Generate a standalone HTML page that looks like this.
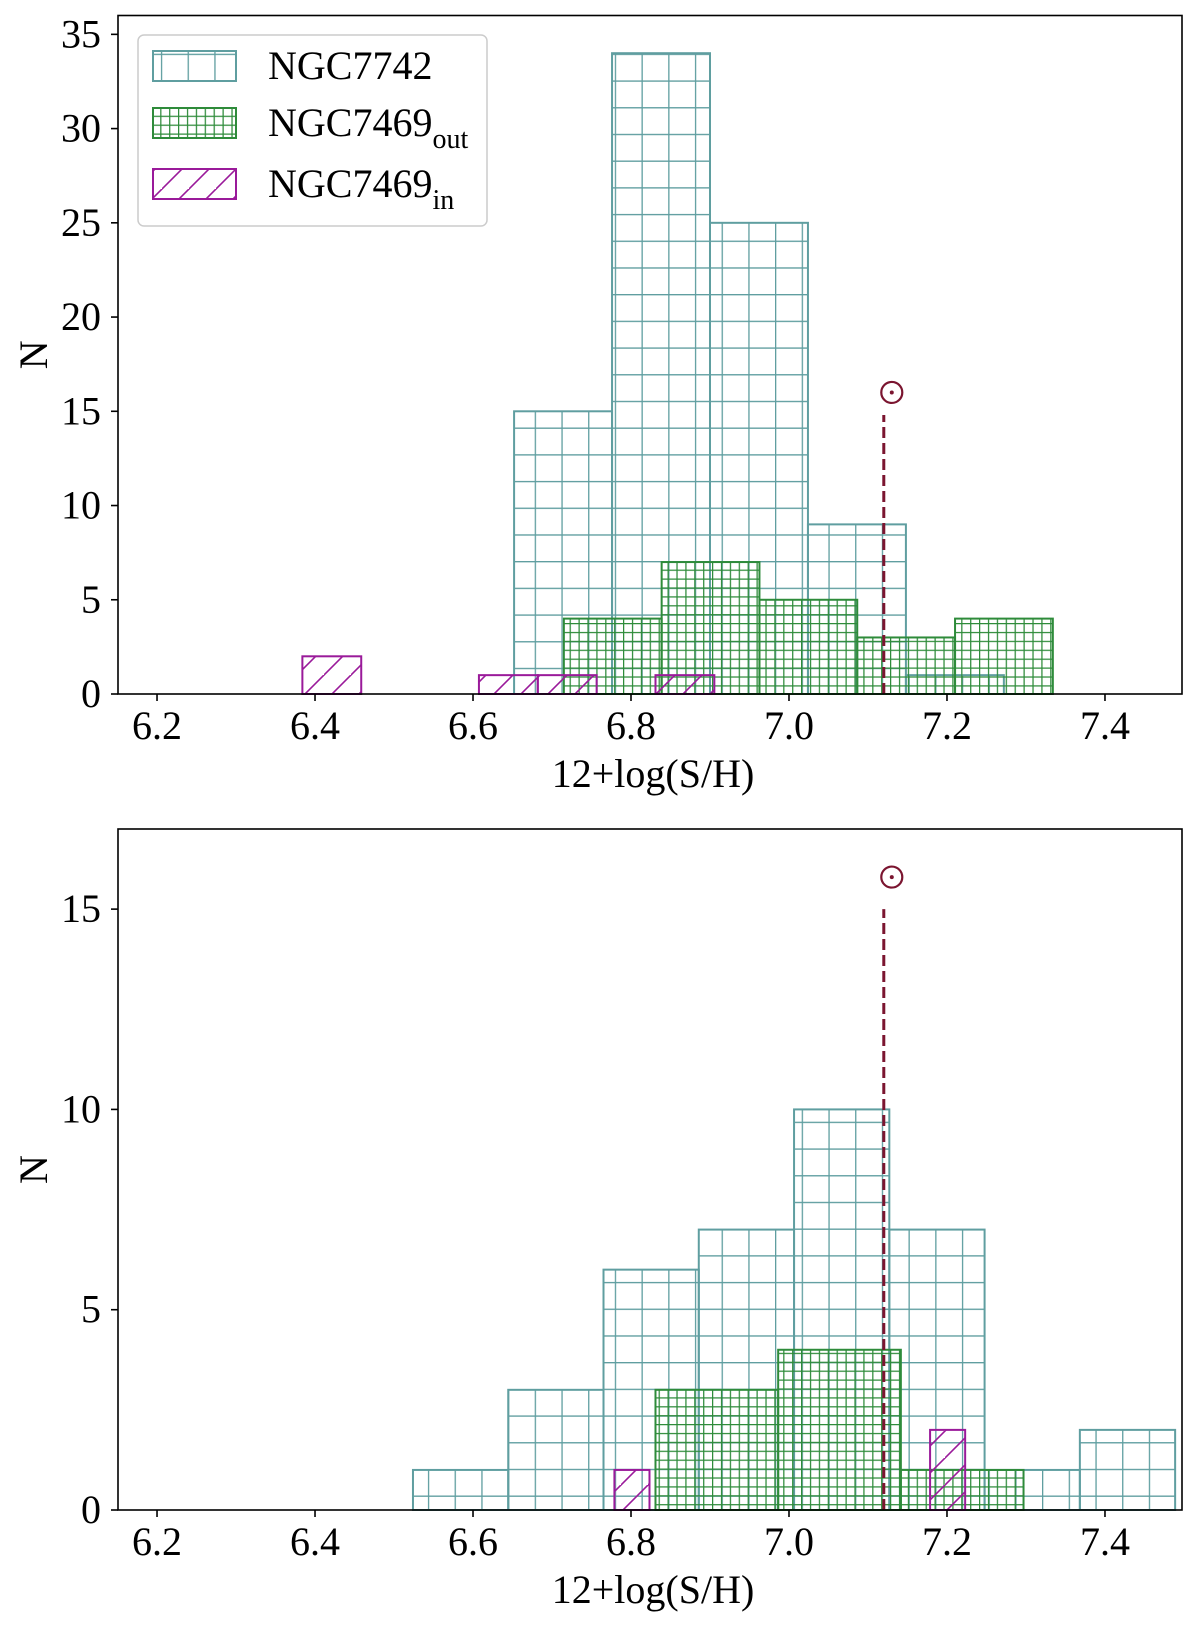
<!DOCTYPE html>
<html><head><meta charset="utf-8"><style>
html,body{margin:0;padding:0;background:#fff}
svg text{font-family:"Liberation Serif",serif;fill:#000}
</style></head><body>
<svg id="c" width="1200" height="1626" xmlns="http://www.w3.org/2000/svg">
<defs>
<pattern id="pT" patternUnits="userSpaceOnUse" width="26.7" height="26.7" x="0.7" y="0.3"><path d="M0 0.5H26.7M0.5 0V26.7" stroke="#5f9ea0" stroke-width="1.6" fill="none"/></pattern>
<pattern id="pG" patternUnits="userSpaceOnUse" width="8.9" height="8.9"><path d="M0 0.5H8.9M0.5 0V8.9" stroke="#2e8b3a" stroke-width="1.5" fill="none"/></pattern>
<pattern id="pP" patternUnits="userSpaceOnUse" width="27" height="27"><path d="M-2 29L29 -2M-29 29L2 -2M25 56L56 25" stroke="#9a1a9a" stroke-width="1.6" fill="none"/></pattern>
</defs>
<g id="g"></g>
</svg>
<script>
// Top panel data
const topTealEdges0 = 6.652, topTealW = 0.124;
const topTealCounts = [15, 34, 25, 9, 1];
const topGreenEdges0 = 6.715, topGreenW = 0.1238;
const topGreenCounts = [4, 7, 5, 3, 4];
const topPurpleEdges0 = 6.384, topPurpleW = 0.0745;
const topPurpleCounts = [2, 0, 0, 1, 1, 0, 1];
// Bottom panel data
const botTealEdges0 = 6.524, botTealW = 0.1206;
const botTealCounts = [1, 3, 6, 7, 10, 7, 1, 2];
const botGreenEdges0 = 6.831, botGreenW = 0.1553;
const botGreenCounts = [3, 4, 1];
const botPurpleEdges0 = 6.779, botPurpleW = 0.0444;
const botPurpleCounts = [1, 0, 0, 0, 0, 0, 0, 0, 0, 2];
const xTicks = [6.2, 6.4, 6.6, 6.8, 7.0, 7.2, 7.4];
const xTickLabels = ["6.2", "6.4", "6.6", "6.8", "7.0", "7.2", "7.4"];
const topYTicks = [0, 5, 10, 15, 20, 25, 30, 35];
const botYTicks = [0, 5, 10, 15];
const solarX = 7.12;
const topSolar = {lineTop: 14.8, sun: 16};
const botSolar = {lineTop: 15, sun: 15.8};

const NS = "http://www.w3.org/2000/svg";
const G = document.getElementById('g');
function el(tag, attrs, parent, txt){const e=document.createElementNS(NS,tag);for(const k in attrs)e.setAttribute(k,attrs[k]);if(txt!==undefined)e.textContent=txt;(parent||G).appendChild(e);return e;}

function panel(cfg){
  const {x0,x1,y0,y1,xmin,xmax,ymax,name}=cfg;
  const X=v=>x0+(v-xmin)/(xmax-xmin)*(x1-x0);
  const Y=v=>y1-v/ymax*(y1-y0);
  const grp=el('g',{});
  
  
  function hist(e0,w,counts,fill,stroke,nm){
    counts.forEach((c,i)=>{
      const a=X(e0+i*w), b=X(e0+(i+1)*w);
      const r=el('rect',{x:a,y:Y(c),width:b-a,height:Y(0)-Y(c),fill:'url(#'+fill+')',stroke:stroke,'stroke-width':2},grp);
      
      
    });
  }
  hist(cfg.tE,cfg.tW,cfg.tC,'pT','#5f9ea0',name+'-ngc7742');
  hist(cfg.gE,cfg.gW,cfg.gC,'pG','#2e8b3a',name+'-ngc7469out');
  hist(cfg.pE,cfg.pW,cfg.pC,'pP','#9a1a9a',name+'-ngc7469in');
  const ln=el('line',{x1:X(solarX),x2:X(solarX),y1:Y(0),y2:Y(cfg.sol.lineTop),stroke:'#7b1530','stroke-width':3,'stroke-dasharray':'11,5'},grp);
  
  
  const sx=X(solarX)+8, sy=Y(cfg.sol.sun);
  const sc=el('circle',{cx:sx,cy:sy,r:10.5,fill:'none',stroke:'#7b1530','stroke-width':2.2},grp);
  
  
  el('circle',{cx:sx,cy:sy,r:2,fill:'#7b1530'},grp);
  const fr=el('rect',{x:x0,y:y0,width:x1-x0,height:y1-y0,fill:'none',stroke:'#000','stroke-width':1.6},grp);
  
  
  xTicks.forEach((t,i)=>{
    el('line',{x1:X(t),x2:X(t),y1:y1,y2:y1+7,stroke:'#000','stroke-width':1.6},grp);
    const tx=el('text',{x:X(t),y:y1+45,'font-size':40,'text-anchor':'middle'},grp,xTickLabels[i]);
    
    
  });
  cfg.yT.forEach(t=>{
    el('line',{x1:x0-7,x2:x0,y1:Y(t),y2:Y(t),stroke:'#000','stroke-width':1.6},grp);
    const tx=el('text',{x:101,y:Y(t)+13,'font-size':40,'text-anchor':'end'},grp,String(t));
    
    
  });
  const xl=el('text',{x:653,y:y1+93,'font-size':40,'text-anchor':'middle'},grp,'12+log(S/H)');
  
  
  const yc=(y0+y1)/2;
  const yl=el('text',{x:47,y:yc,'font-size':40,'text-anchor':'middle',transform:'rotate(-90 47 '+yc+')'},grp,'N');
  
  
}
panel({name:'top-panel',x0:118,x1:1182,y0:15.5,y1:694,xmin:6.1506,xmax:7.4975,ymax:36,
  tE:topTealEdges0,tW:topTealW,tC:topTealCounts,gE:topGreenEdges0,gW:topGreenW,gC:topGreenCounts,
  pE:topPurpleEdges0,pW:topPurpleW,pC:topPurpleCounts,yT:topYTicks,sol:topSolar});
panel({name:'bottom-panel',x0:118,x1:1182,y0:829,y1:1510,xmin:6.1506,xmax:7.4975,ymax:17,
  tE:botTealEdges0,tW:botTealW,tC:botTealCounts,gE:botGreenEdges0,gW:botGreenW,gC:botGreenCounts,
  pE:botPurpleEdges0,pW:botPurpleW,pC:botPurpleCounts,yT:botYTicks,sol:botSolar});

// legend
const lg=el('g',{});


el('rect',{x:138,y:35,width:349,height:191,rx:6,fill:'#fff','fill-opacity':0.85,stroke:'#ccc','stroke-width':1.5},lg);
const entries=[['pT','#5f9ea0','NGC7742','',51],['pG','#2e8b3a','NGC7469','out',108],['pP','#9a1a9a','NGC7469','in',169]];
entries.forEach(e=>{
  const r=el('rect',{x:153,y:e[4],width:83,height:30,fill:'url(#'+e[0]+')',stroke:e[1],'stroke-width':2},lg);
  
  
  const t=el('text',{x:268,y:e[4]+28,'font-size':40},lg,e[2]);
  
  
  if(e[3]){el('tspan',{dy:12,'font-size':28},t,e[3]);}
});
</script>
</body></html>
